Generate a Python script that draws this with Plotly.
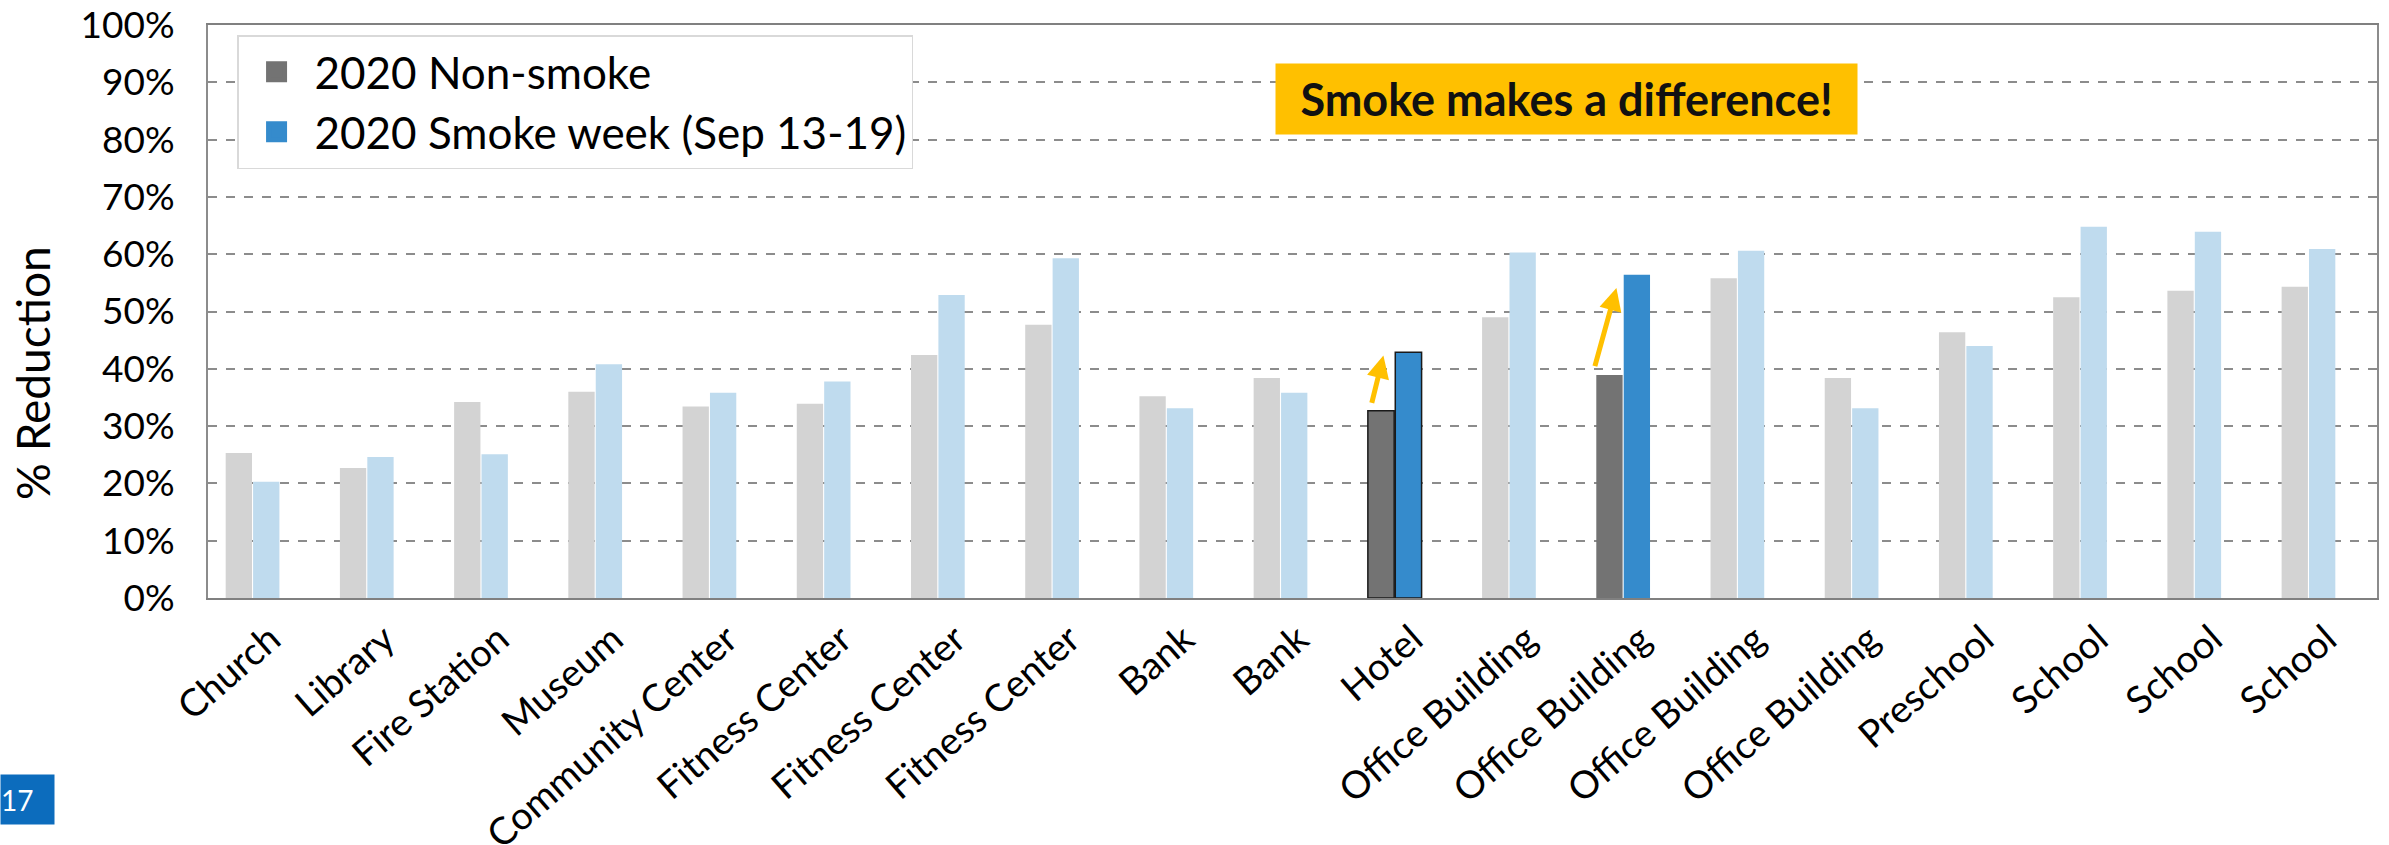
import plotly.graph_objects as go

# Building types along the x axis (one pair of bars per building)
categories = ["Church", "Library", "Fire Station", "Museum", "Community Center",
              "Fitness Center", "Fitness Center", "Fitness Center", "Bank", "Bank",
              "Hotel", "Office Building", "Office Building", "Office Building",
              "Office Building", "Preschool", "School", "School", "School"]

# % reduction per building
non_smoke = [25.3, 22.7, 34.2, 36.0, 33.4, 33.9, 42.4, 47.7, 35.2, 38.4,
             32.7, 49.0, 38.9, 55.8, 38.4, 46.4, 52.5, 53.6, 54.3]
smoke_week = [20.3, 24.6, 25.1, 40.8, 35.8, 37.8, 52.9, 59.3, 33.1, 35.8,
              42.9, 60.3, 56.4, 60.6, 33.1, 44.0, 64.8, 63.9, 60.9]

# Buildings drawn in full colour; all others are faded
highlighted = [10, 12]
outlined = [10]

y_ticks = list(range(0, 101, 10))
y_tick_text = [f"{v}%" for v in y_ticks]

FONT = "Lato, Carlito, 'Open Sans', sans-serif"
GRAY, BLUE = "#737373", "#358BCC"
x = list(range(len(categories)))


def keep(values, chosen, want):
    return [v if ((i in chosen) == want) else None for i, v in enumerate(values)]


fig = go.Figure()

# faded bars
fig.add_trace(go.Bar(x=x, y=keep(non_smoke, highlighted, False), offsetgroup="ns",
                     marker=dict(color="#D3D3D3", line=dict(width=0)),
                     showlegend=False, hoverinfo="skip"))
fig.add_trace(go.Bar(x=x, y=keep(smoke_week, highlighted, False), offsetgroup="sw",
                     marker=dict(color="#BFDBEE", line=dict(width=0)),
                     showlegend=False, hoverinfo="skip"))

# highlighted bars
line_cols = ["#1A1A1A" if i in outlined else "rgba(0,0,0,0)" for i in x]
fig.add_trace(go.Bar(x=x, y=keep(non_smoke, highlighted, True), offsetgroup="ns",
                     name="2020 Non-smoke", legendgroup="ns", showlegend=False,
                     marker=dict(color=GRAY, line=dict(color=line_cols, width=1.5))))
fig.add_trace(go.Bar(x=x, y=keep(smoke_week, highlighted, True), offsetgroup="sw",
                     name="2020 Smoke week (Sep 13-19)", legendgroup="sw", showlegend=False,
                     marker=dict(color=BLUE, line=dict(color=line_cols, width=1.5))))

# legend entries with larger square swatches
for name, col, grp in [("2020 Non-smoke", GRAY, "ns"),
                       ("2020 Smoke week (Sep 13-19)", BLUE, "sw")]:
    fig.add_trace(go.Scatter(x=[None], y=[None], mode="markers", name=name,
                             legendgroup=grp,
                             marker=dict(symbol="square", size=16, color=col,
                                         line=dict(color=col, width=5))))

annotations = []

# yellow arrows from the non-smoke bar up to the smoke-week bar
arrow_offsets = {10: (-0.204, -0.099), 12: (-0.251, -0.059)}
for i in highlighted:
    tail_dx, tip_dx = arrow_offsets[i]
    annotations.append(dict(
        x=i + tip_dx, y=smoke_week[i] - (0.6 if i == 10 else 2.3),
        ax=i + tail_dx, ay=non_smoke[i] + (1.1 if i == 10 else 1.3),
        xref="x", yref="y", axref="x", ayref="y",
        showarrow=True, arrowhead=2, arrowsize=0.9, arrowwidth=5,
        arrowcolor="#FFC000", text="", standoff=0, startstandoff=0))

# call-out box
annotations.append(dict(
    x=0.6263, y=0.8709, xref="paper", yref="paper", xanchor="center", yanchor="middle",
    text="<b>Smoke makes a difference!</b>", showarrow=False,
    font=dict(family=FONT, size=45, color="#111111"),
    bgcolor="#FFC000", width=579, height=68, align="center", valign="middle"))

# y-axis title
annotations.append(dict(
    x=-0.0807, y=0.3927, xref="paper", yref="paper", xanchor="center", yanchor="middle",
    text="% Reduction", textangle=-90, showarrow=False,
    font=dict(family=FONT, size=46, color="black")))

# slide number
annotations.append(dict(
    x=-0.0959, y=-0.3072, xref="paper", yref="paper", xanchor="left", yanchor="top",
    text="17", showarrow=False, font=dict(family=FONT, size=28, color="white"),
    bgcolor="#0C6CBD", width=53, height=49, align="left", valign="middle", borderpad=0))

fig.update_layout(
    width=2389, height=845,
    margin=dict(l=208, r=12, t=25, b=247),
    paper_bgcolor="white", plot_bgcolor="white",
    barmode="group", bargap=0.52, bargroupgap=0.04,
    font=dict(family=FONT, color="black"),
    legend=dict(x=0.0134, y=0.9825, xanchor="left", yanchor="top",
                bgcolor="white", bordercolor="#D9D9D9", borderwidth=1.5,
                font=dict(family=FONT, size=44, color="black"),
                traceorder="normal", tracegroupgap=6, itemwidth=66,
                itemsizing="trace"),
    annotations=annotations,
)

fig.update_xaxes(
    tickvals=x, ticktext=categories, tickangle=-41,
    range=[-0.39, 18.6], showgrid=False, zeroline=False,
    showline=True, linecolor="#808080", linewidth=2, mirror=True,
    ticks="", ticklabelshift=18, ticklabelstandoff=2,
    tickfont=dict(family=FONT, size=38, color="black"),
    automargin=False,
)

fig.update_yaxes(
    range=[0, 100], tickvals=y_ticks, ticktext=y_tick_text,
    showgrid=True, gridcolor="#8C8C8C", griddash="dash", gridwidth=1.5,
    zeroline=False, showline=True, linecolor="#8C8C8C", linewidth=2, mirror=True,
    ticks="", ticklabelstandoff=24,
    tickfont=dict(family=FONT, size=37, color="black"),
    automargin=False,
)

fig.write_html("out.html")
